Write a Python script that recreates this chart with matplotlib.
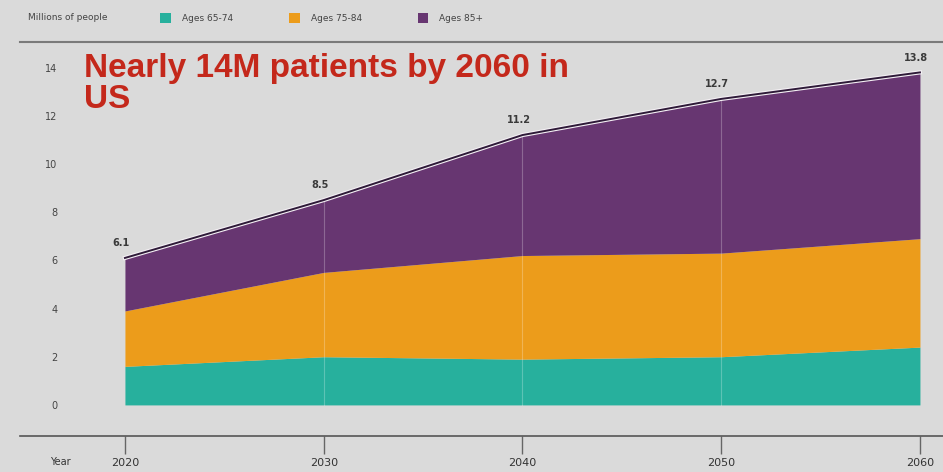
import numpy as np
import matplotlib
matplotlib.use("Agg")
import matplotlib.pyplot as plt

# data (millions of people)
years = [2020, 2030, 2040, 2050, 2060]
ages_65_74 = [1.6, 2.0, 1.9, 2.0, 2.4]
ages_75_84 = [2.3, 3.5, 4.3, 4.3, 4.5]
ages_85_plus = [2.2, 3.0, 5.0, 6.4, 6.9]
totals = ["6.1", "8.5", "11.2", "12.7", "13.8"]
series_names = ["Ages 65-74", "Ages 75-84", "Ages 85+"]
colors = ["#27b09d", "#ec9c1b", "#673671"]
yticks = [0, 2, 4, 6, 8, 10, 12, 14]

BG = "#dadada"
W, H = 943, 472

fig = plt.figure(figsize=(W / 100, H / 100), dpi=100, facecolor=BG)
# axes: left edge at 20px, bottom (x axis line) at 436px from top, top at 50px
ax = fig.add_axes([20 / W, (H - 436) / H, 1 - 20 / W, (436 - 50) / H])
ax.set_facecolor(BG)

base = np.zeros(len(years))
handles = []
for vals, name, col in zip([ages_65_74, ages_75_84, ages_85_plus], series_names, colors):
    vals = np.array(vals)
    h = ax.fill_between(years, base, base + vals, color=col, lw=0, label=name)
    handles.append(h)
    base = base + vals

# dark top edge with a light highlight above it
ax.plot(years, base, color="#f4f0f4", lw=3.0, zorder=3)
ax.plot(years, base, color="#2e1a38", lw=1.4, zorder=4)

# faint vertical seams at the inner decades
for yr, top in zip(years[1:-1], base[1:-1]):
    ax.plot([yr, yr], [0, top], color="white", lw=0.8, alpha=0.25, zorder=2)

for yr, top, lab in zip(years, base, totals):
    ax.text(yr - 0.2, top + 0.4, lab, ha="center", va="bottom", fontsize=7,
            color="#3a3a3a", fontweight="bold", family="DejaVu Sans")

ax.set_xlim(2014.72, 2061.16)
ax.set_ylim(-1.29, 14.73)

for s in ["top", "right", "left"]:
    ax.spines[s].set_visible(False)
ax.spines["bottom"].set_color("#555555")
ax.spines["bottom"].set_linewidth(1.2)

ax.set_xticks(years)
ax.set_xticklabels([str(y) for y in years])
ax.tick_params(axis="x", direction="out", length=13, width=1, color="#666666",
               labelsize=8, labelcolor="#333333", pad=3)
ax.set_yticks(yticks)
ax.set_yticklabels([str(v) for v in yticks])
ax.tick_params(axis="y", length=0, labelsize=7, labelcolor="#444444", pad=-27)

fig.text(50 / W, 1 - 462 / H, "Year", fontsize=7, color="#333333", va="center")

# header row
fig.text(28 / W, 1 - 18 / H, "Millions of people", fontsize=6.5, color="#444444", va="center")
fig.legend(handles=handles, labels=series_names, loc="center left",
           bbox_to_anchor=(152 / W, 1 - 18 / H), ncol=3, frameon=False,
           fontsize=6.5, labelcolor="#444444", handlelength=1.2, handleheight=1.3,
           columnspacing=6.2, handletextpad=1.2)
fig.add_artist(plt.Line2D([20 / W, 1], [1 - 42 / H, 1 - 42 / H], color="#7a7a7a", lw=1.5))

# slide title
fig.text(84 / W, 1 - 84 / H, "Nearly 14M patients by 2060 in\nUS", fontsize=24,
         fontweight="bold", color="#c4281b", family="Liberation Sans",
         va="center", ha="left", linespacing=1.02)

fig.savefig("out.png", dpi=100, facecolor=BG)
